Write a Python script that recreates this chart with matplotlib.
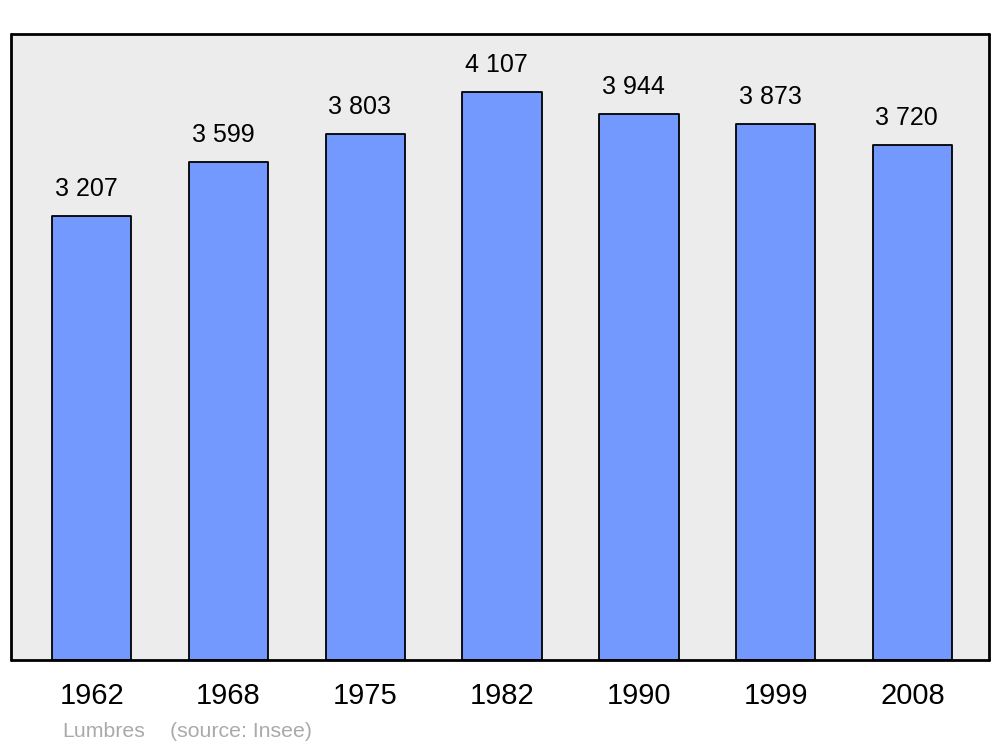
import matplotlib
matplotlib.use('Agg')
import matplotlib.pyplot as plt

# population of Lumbres
years = ['1962', '1968', '1975', '1982', '1990', '1999', '2008']
population = [3207, 3599, 3803, 4107, 3944, 3873, 3720]
labels = ['3 207', '3 599', '3 803', '4 107', '3 944', '3 873', '3 720']

plt.rcParams['font.family'] = ['Liberation Sans', 'DejaVu Sans']

fig = plt.figure(figsize=(10, 7.47), dpi=100)
ax = fig.add_axes([0.011, 0.1165, 0.978, 0.838])
ax.set_facecolor('#ececec')

x = list(range(len(years)))
ax.bar(x, population, width=0.58, color='#7399ff', edgecolor='black',
       linewidth=1.3, joinstyle='round')

for xi, v, lab in zip(x, population, labels):
    ax.annotate(lab, (xi, v), xytext=(-4, 11), textcoords='offset points',
                ha='center', va='bottom', fontsize=18)

ax.set_xlim(-0.59, 6.56)
ax.set_ylim(0, 4526)
ax.set_yticks([])
ax.set_xticks(x)
ax.set_xticklabels(years, fontsize=21)
ax.tick_params(axis='x', length=0, pad=16)

for s in ax.spines.values():
    s.set_linewidth(2)
    s.set_capstyle('round')
    s.set_joinstyle('round')

fig.text(0.062, 0.0134, 'Lumbres', color='#aaaaaa', fontsize=15.3)
fig.text(0.170, 0.0134, '(source: Insee)', color='#aaaaaa', fontsize=15.3)

fig.savefig('out.png', dpi=100)
